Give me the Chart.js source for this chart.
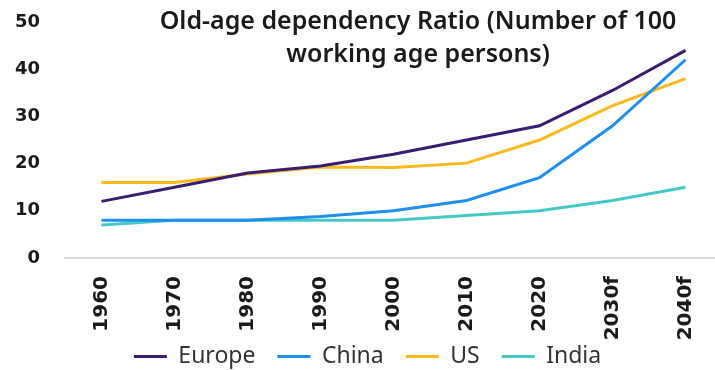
<!DOCTYPE html>
<html>
<head>
<meta charset="utf-8">
<script src="https://cdn.jsdelivr.net/npm/chart.js@4.4.1/dist/chart.umd.min.js"></script>
<style>
  html, body { margin: 0; padding: 0; background: #fff; overflow: hidden; }
</style>
</head>
<body>
<canvas id="chart-area" width="722" height="370"></canvas>
<script>
var years = ['1960', '1970', '1980', '1990', '2000', '2010', '2020', '2030f', '2040f'];
var europe = [12, 15, 18, 19.5, 22, 25, 28, 35.5, 44];
var china = [8, 8, 8, 8.8, 10, 12.2, 17, 28, 42];
var us = [16, 16, 17.8, 19.3, 19.2, 20.1, 25, 32.3, 38];
var india = [7, 8, 8, 8, 8, 9, 10, 12.2, 15];
var yTicks = [0, 10, 20, 30, 40, 50];
var titleLines = ['Old-age dependency Ratio (Number of 100', 'working age persons)'];

var textFont = "'Noto Sans', sans-serif";
var tickFont = "'DejaVu Sans', sans-serif";
var legendPad = 22;

// title sits inside the plot area, so draw it by hand
var titlePlugin = {
  id: 'innerTitle',
  afterDraw: function(chart) {
    var ctx = chart.ctx;
    ctx.save();
    ctx.font = '600 25px ' + textFont;
    ctx.fillStyle = '#1a1a1a';
    ctx.textAlign = 'center';
    ctx.textBaseline = 'middle';
    ctx.fillText(titleLines[0], 418, 22);
    ctx.fillText(titleLines[1], 418, 55);
    ctx.restore();
  }
};

window.onload = function() {
  var ctx = document.getElementById('chart-area').getContext('2d');
  var line = function(label, data, color) {
    return {
      label: label,
      data: data,
      borderColor: color,
      backgroundColor: color,
      borderWidth: 3,
      pointRadius: 0,
      tension: 0,
      fill: false
    };
  };
  var config = {
    type: 'line',
    data: {
      labels: years,
      datasets: [
        line('Europe', europe, '#3a1c71'),
        line('China', china, '#1e8ef0'),
        line('US', us, '#fbb91e'),
        line('India', india, '#45c9c6')
      ]
    },
    plugins: [titlePlugin],
    options: {
      responsive: false,
      animation: false,
      layout: { padding: { left: 13, right: 0, top: 22, bottom: -8 } },
      plugins: {
        title: { display: false },
        tooltip: { enabled: false },
        legend: {
          position: 'bottom',
          labels: {
            usePointStyle: true,
            pointStyle: 'line',
            pointStyleWidth: 33,
            padding: legendPad,
            color: '#333',
            font: { family: textFont, size: 23 }
          }
        }
      },
      scales: {
        x: {
          offset: true,
          grid: { display: false, drawTicks: false },
          border: { display: true, color: '#d9d9d9', width: 2 },
          ticks: {
            minRotation: 90,
            maxRotation: 90,
            padding: 18,
            color: '#1a1a1a',
            font: { family: tickFont, size: 20, weight: 'bold' }
          },
          afterFit: function(axis) {
            // labels hang down into the legend band, so don't clip them
            axis.height = 87 - legendPad;
            axis.paddingLeft = 0;
            axis.paddingRight = 0;
            axis._computeLabelArea = function() {};
          }
        },
        y: {
          min: 0,
          max: 50,
          afterBuildTicks: function(axis) {
            axis.ticks = yTicks.map(function(v) { return { value: v }; });
          },
          afterFit: function(axis) {
            axis.width = 52;
            axis.paddingTop = 0;
            axis.paddingBottom = 0;
          },
          grid: { display: false, drawTicks: false },
          border: { display: false },
          ticks: {
            padding: 25,
            color: '#1a1a1a',
            font: { family: tickFont, size: 18, weight: 'bold' }
          }
        }
      }
    }
  };
  window.myLine = new Chart(ctx, config);
};
</script>
</body>
</html>
